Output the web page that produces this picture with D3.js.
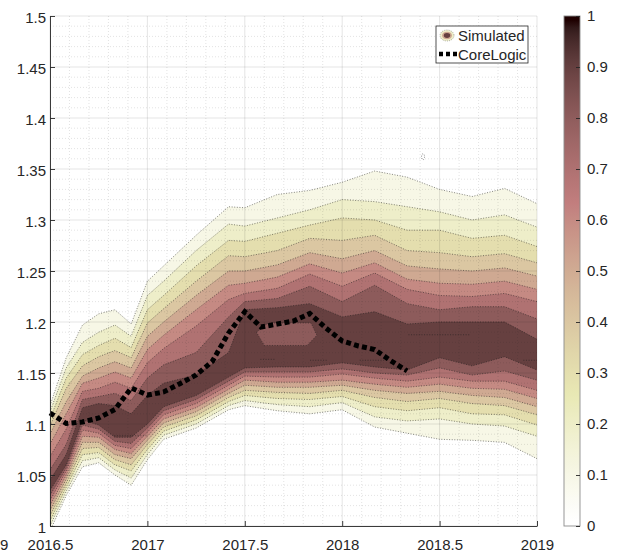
<!DOCTYPE html>
<html><head><meta charset="utf-8">
<script src="https://cdn.jsdelivr.net/npm/d3@7"></script>
<style>
body{margin:0;background:#fff}
text{font-family:"Liberation Sans",Arial,Helvetica,sans-serif;fill:#262626}
</style>
</head><body>
<svg id="chart" width="622" height="554"></svg>
<script>
// ---------------- data ----------------
const years = [2016.5, 2016.5833, 2016.6667, 2016.75, 2016.8333, 2016.9167, 2017.0, 2017.0833,
  2017.25, 2017.4167, 2017.5, 2017.6667, 2017.8333, 2018.0, 2018.1667, 2018.3333, 2018.5,
  2018.6667, 2018.8333, 2019.0];
const levels = [0.1, 0.2, 0.3, 0.4, 0.5, 0.6, 0.7, 0.8, 0.9];
// upper edge of each contour level across years
const upperEdges = [
  [1.118,1.165,1.197,1.208,1.212,1.198,1.240,1.255,1.285,1.313,1.312,1.325,1.329,1.337,1.348,1.342,1.330,1.323,1.331,1.316],
  [1.112,1.155,1.180,1.190,1.197,1.186,1.226,1.240,1.270,1.296,1.294,1.302,1.310,1.320,1.318,1.313,1.308,1.300,1.305,1.293],
  [1.105,1.145,1.168,1.177,1.184,1.175,1.212,1.226,1.255,1.280,1.279,1.287,1.295,1.302,1.300,1.290,1.290,1.282,1.285,1.274],
  [1.098,1.135,1.157,1.166,1.172,1.165,1.199,1.213,1.240,1.265,1.264,1.270,1.282,1.280,1.285,1.270,1.268,1.264,1.267,1.258],
  [1.090,1.122,1.147,1.155,1.161,1.155,1.186,1.200,1.226,1.250,1.250,1.256,1.268,1.262,1.270,1.255,1.252,1.250,1.253,1.245],
  [1.080,1.110,1.140,1.145,1.151,1.145,1.173,1.187,1.212,1.236,1.238,1.244,1.257,1.248,1.258,1.242,1.238,1.237,1.240,1.232],
  [1.068,1.095,1.132,1.135,1.141,1.135,1.160,1.174,1.196,1.222,1.228,1.233,1.247,1.235,1.248,1.232,1.226,1.225,1.228,1.220],
  [1.055,1.080,1.124,1.127,1.130,1.123,1.145,1.158,1.170,1.205,1.220,1.223,1.235,1.220,1.236,1.218,1.212,1.215,1.215,1.203],
  [1.045,1.070,1.116,1.120,1.118,1.110,1.128,1.140,1.148,1.170,1.212,1.214,1.218,1.205,1.210,1.198,1.200,1.200,1.200,1.183]
];
// lower edge of each contour level across years
const lowerEdges = [
  [0.995,1.030,1.058,1.062,1.050,1.040,1.065,1.085,1.096,1.114,1.118,1.113,1.110,1.114,1.097,1.091,1.085,1.084,1.082,1.066],
  [1.000,1.034,1.064,1.067,1.055,1.047,1.070,1.089,1.100,1.118,1.123,1.119,1.117,1.121,1.107,1.103,1.105,1.100,1.098,1.088],
  [1.005,1.038,1.070,1.072,1.060,1.054,1.075,1.093,1.104,1.122,1.128,1.125,1.124,1.127,1.117,1.113,1.116,1.110,1.109,1.099],
  [1.010,1.042,1.076,1.077,1.065,1.060,1.080,1.097,1.108,1.126,1.133,1.131,1.130,1.133,1.126,1.122,1.125,1.120,1.118,1.109],
  [1.015,1.046,1.082,1.082,1.070,1.066,1.084,1.101,1.112,1.130,1.138,1.136,1.136,1.138,1.133,1.130,1.132,1.128,1.126,1.117],
  [1.020,1.050,1.088,1.087,1.075,1.071,1.088,1.105,1.116,1.134,1.143,1.141,1.141,1.143,1.139,1.136,1.139,1.135,1.134,1.125],
  [1.025,1.054,1.094,1.091,1.079,1.076,1.092,1.109,1.120,1.138,1.147,1.146,1.146,1.149,1.145,1.142,1.146,1.142,1.142,1.133],
  [1.030,1.057,1.099,1.095,1.083,1.081,1.096,1.113,1.124,1.142,1.151,1.151,1.151,1.154,1.150,1.148,1.155,1.148,1.152,1.143],
  [1.035,1.060,1.104,1.099,1.087,1.087,1.100,1.117,1.128,1.146,1.155,1.156,1.156,1.160,1.156,1.153,1.165,1.157,1.166,1.153]
];
// lighter pocket (level 0.8) inside the core: [year, value]
const coreHole = [[2017.56,1.190],[2017.62,1.199],[2017.84,1.199],[2017.87,1.187],[2017.82,1.177],[2017.60,1.177]];
// short flat contour pieces inside the core: [startYear, endYear, value]
const plateauMarks = [
  [2016.83, 2017.0, 1.0885], [2017.58, 2017.66, 1.1634], [2017.835, 2017.92, 1.1625],
  [2018.09, 2018.23, 1.1625], [2018.34, 2018.66, 1.1875], [2018.93, 2019.0, 1.1625]
];
const islandYear = 2018.415, islandValue = 1.362;

const coreLogicYears = [2016.5, 2016.5833, 2016.6667, 2016.75, 2016.8333, 2016.9167, 2017.0,
  2017.0833, 2017.1667, 2017.25, 2017.3333, 2017.4167, 2017.5, 2017.5833, 2017.6667, 2017.75,
  2017.8333, 2017.9167, 2018.0, 2018.0833, 2018.1667, 2018.25, 2018.3333];
const coreLogicValues = [1.1108, 1.1005, 1.1020, 1.1059, 1.1142, 1.1353, 1.1284, 1.1314, 1.1395,
  1.1480, 1.1615, 1.1892, 1.2101, 1.1951, 1.1980, 1.2010, 1.2083, 1.1940, 1.1814, 1.1765,
  1.1730, 1.1620, 1.1520];

const xTicks = [2016.5, 2017, 2017.5, 2018, 2018.5, 2019];
const xTickLabels = ["2016.5", "2017", "2017.5", "2018", "2018.5", "2019"];
const yTicks = [1, 1.05, 1.1, 1.15, 1.2, 1.25, 1.3, 1.35, 1.4, 1.45, 1.5];
const yTickLabels = ["1", "1.05", "1.1", "1.15", "1.2", "1.25", "1.3", "1.35", "1.4", "1.45", "1.5"];
const cbTicks = [0, 0.1, 0.2, 0.3, 0.4, 0.5, 0.6, 0.7, 0.8, 0.9, 1];
const cbTickLabels = ["0", "0.1", "0.2", "0.3", "0.4", "0.5", "0.6", "0.7", "0.8", "0.9", "1"];
const legendLabels = ["Simulated", "CoreLogic"];

// ---------------- colormap: flipped MATLAB pink(64) ----------------
const N = 64;
const pinkMap = d3.range(N).map(i => {
  const g = i / (N - 1);
  const n = Math.floor(3 / 8 * N);
  const r = i < n ? (i + 1) / n : 1;
  const gg = i < n ? 0 : (i < 2 * n ? (i + 1 - n) / n : 1);
  const b = i < 2 * n ? 0 : (i + 1 - 2 * n) / (N - 2 * n);
  const f = h => Math.round(255 * Math.sqrt((2 * g + h) / 3));
  return `rgb(${f(r)},${f(gg)},${f(b)})`;
});
const colorOf = v => pinkMap[N - 1 - Math.min(N - 1, Math.floor(v * N))];

// ---------------- layout ----------------
const svg = d3.select("#chart");
const L = 50, R = 537, T = 16, B = 526;
const x = d3.scaleLinear([2016.5, 2019], [L, R]);
const y = d3.scaleLinear([1, 1.5], [B, T]);

svg.append("rect").attr("width", 622).attr("height", 554).attr("fill", "#fff");
const defs = svg.append("defs");
defs.append("clipPath").attr("id", "plotclip")
  .append("rect").attr("x", L).attr("y", T).attr("width", R - L).attr("height", B - T);

const plot = svg.append("g").attr("clip-path", "url(#plotclip)");

const dotted = sel => sel.attr("fill", "none").attr("stroke", "#1a1a1a").attr("stroke-width", 0.7)
  .attr("stroke-dasharray", "1,1.6").attr("opacity", 0.75);

// filled bands
const area = d3.area().x(d => x(d.t)).y0(d => y(d.lo)).y1(d => y(d.hi));
const line = d3.line().x(d => x(d.t)).y(d => y(d.v));
levels.forEach((lev, k) => {
  const pts = years.map((t, i) => ({t, lo: lowerEdges[k][i], hi: upperEdges[k][i]}));
  plot.append("path").attr("d", area(pts)).attr("fill", colorOf(lev)).attr("stroke", colorOf(lev)).attr("stroke-width", 0.3);
});
// lighter pocket in the core
const holeLine = d3.line().x(d => x(d[0])).y(d => y(d[1])).curve(d3.curveLinearClosed);
plot.append("path").attr("d", holeLine(coreHole)).attr("fill", colorOf(0.8));
plot.append("path").attr("d", holeLine(coreHole)).call(dotted);
// contour lines
levels.forEach((lev, k) => {
  [upperEdges[k], lowerEdges[k]].forEach(arr => {
    plot.append("path").attr("d", line(years.map((t, i) => ({t, v: arr[i]})))).call(dotted);
  });
});
plateauMarks.forEach(p => {
  plot.append("line").attr("x1", x(p[0])).attr("x2", x(p[1])).attr("y1", y(p[2])).attr("y2", y(p[2])).call(dotted);
});
plot.append("ellipse").attr("cx", x(islandYear)).attr("cy", y(islandValue)).attr("rx", 1.5).attr("ry", 3)
  .attr("fill", "none").attr("stroke", "#555").attr("stroke-width", 0.7).attr("stroke-dasharray", "1,1.4");

// grid (drawn over, translucent)
const grid = svg.append("g");
d3.range(2016.6, 2019.0, 0.1).forEach(t => {
  if (Math.abs(t * 2 - Math.round(t * 2)) < 1e-6) return;
  grid.append("line").attr("x1", x(t)).attr("x2", x(t)).attr("y1", T).attr("y2", B)
    .attr("stroke", "rgba(38,38,38,0.22)").attr("stroke-width", 0.6).attr("stroke-dasharray", "1,2");
});
d3.range(1.01, 1.5, 0.01).forEach(v => {
  if (Math.abs(v * 20 - Math.round(v * 20)) < 1e-6) return;
  grid.append("line").attr("x1", L).attr("x2", R).attr("y1", y(v)).attr("y2", y(v))
    .attr("stroke", "rgba(38,38,38,0.22)").attr("stroke-width", 0.6).attr("stroke-dasharray", "1,2");
});
xTicks.forEach(t => grid.append("line").attr("x1", x(t)).attr("x2", x(t)).attr("y1", T).attr("y2", B)
  .attr("stroke", "rgba(38,38,38,0.15)").attr("stroke-width", 0.8));
yTicks.forEach(v => grid.append("line").attr("x1", L).attr("x2", R).attr("y1", y(v)).attr("y2", y(v))
  .attr("stroke", "rgba(38,38,38,0.15)").attr("stroke-width", 0.8));

// CoreLogic line
svg.append("path")
  .attr("d", d3.line().x((d, i) => x(coreLogicYears[i])).y(d => y(d))(coreLogicValues))
  .attr("fill", "none").attr("stroke", "#000").attr("stroke-width", 5)
  .attr("stroke-dasharray", "5,3.2");

// axes
const xAxis = d3.axisBottom(x).tickValues(xTicks).tickFormat((d, i) => xTickLabels[i])
  .tickSizeInner(-5).tickSizeOuter(0).tickPadding(13.4);
const yAxis = d3.axisLeft(y).tickValues(yTicks).tickFormat((d, i) => yTickLabels[i])
  .tickSizeInner(-5).tickSizeOuter(0).tickPadding(4);
const gx = svg.append("g").attr("transform", `translate(0,${B})`).call(xAxis);
const gy = svg.append("g").attr("transform", `translate(${L},0)`).call(yAxis);
[gx, gy].forEach(g => {
  g.select(".domain").attr("stroke", "#262626").attr("stroke-width", 0.9);
  g.selectAll(".tick line").attr("stroke", "#262626").attr("stroke-width", 0.9);
  g.selectAll(".tick text").attr("font-size", 15).attr("fill", "#262626")
    .style("font-family", '"Liberation Sans",Arial,sans-serif');
});
gy.selectAll(".tick text").attr("dy", "0.45em");
svg.append("text").attr("x", 0).attr("y", 550).attr("font-size", 15).text("9");

// colorbar (smooth gradient of the colormap)
const cbL = 564, cbW = 16;
const cy = d3.scaleLinear([0, 1], [B, T]);
const grad = defs.append("linearGradient").attr("id", "cbgrad")
  .attr("x1", 0).attr("y1", 1).attr("x2", 0).attr("y2", 0);
pinkMap.slice().reverse().forEach((c, j) => {
  grad.append("stop").attr("offset", (j + 0.5) / N).attr("stop-color", c);
});
svg.append("rect").attr("x", cbL).attr("y", T).attr("width", cbW).attr("height", B - T)
  .attr("fill", "url(#cbgrad)").attr("stroke", "#8c8c8c").attr("stroke-width", 0.9);
const cbAxis = d3.axisRight(cy).tickValues(cbTicks).tickFormat((d, i) => cbTickLabels[i])
  .tickSizeInner(-4).tickSizeOuter(0).tickPadding(7);
const gcb = svg.append("g").attr("transform", `translate(${cbL + cbW},0)`).call(cbAxis);
gcb.select(".domain").remove();
gcb.selectAll(".tick line").attr("stroke", "#262626").attr("stroke-width", 0.9);
gcb.selectAll(".tick text").attr("font-size", 15).attr("fill", "#262626")
  .style("font-family", '"Liberation Sans",Arial,sans-serif');

// legend
const lg = svg.append("g");
lg.append("rect").attr("x", 436).attr("y", 26).attr("width", 92).attr("height", 37)
  .attr("fill", "#fff").attr("stroke", "#262626").attr("stroke-width", 0.8);
lg.append("ellipse").attr("cx", 447).attr("cy", 35.5).attr("rx", 7).attr("ry", 5.5)
  .attr("fill", colorOf(0.2)).attr("stroke", "#777").attr("stroke-width", 0.6).attr("stroke-dasharray", "1,1.2");
lg.append("ellipse").attr("cx", 447).attr("cy", 35.5).attr("rx", 5).attr("ry", 3.8).attr("fill", colorOf(0.5));
lg.append("ellipse").attr("cx", 447).attr("cy", 35.5).attr("rx", 3.2).attr("ry", 2.4).attr("fill", colorOf(0.9));
lg.append("line").attr("x1", 439).attr("x2", 457).attr("y1", 54).attr("y2", 54)
  .attr("stroke", "#000").attr("stroke-width", 4.5).attr("stroke-dasharray", "4,3");
lg.append("text").attr("x", 458).attr("y", 40.8).attr("font-size", 15).text(legendLabels[0]);
lg.append("text").attr("x", 458).attr("y", 59.5).attr("font-size", 15).text(legendLabels[1]);
</script>
</body></html>
